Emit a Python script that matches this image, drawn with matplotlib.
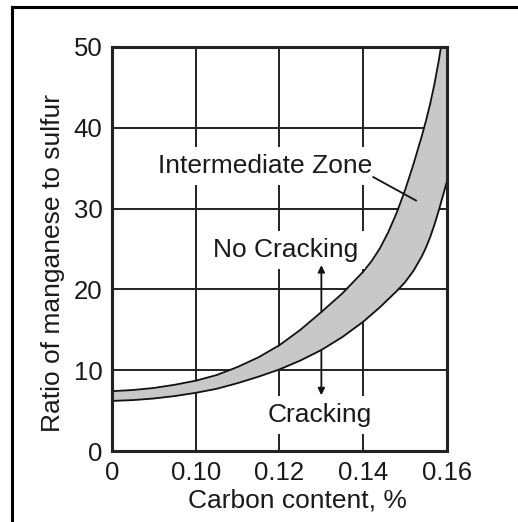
import matplotlib
matplotlib.use("Agg")
import matplotlib.pyplot as plt
from matplotlib.lines import Line2D

plt.rcParams['font.family'] = ['Liberation Sans', 'DejaVu Sans']

# x axis is not linear: 0, 0.10, 0.12, 0.14, 0.16 are spaced evenly,
# so curves are given in tick-position units (0..4)
tick_labels = ['0', '0.10', '0.12', '0.14', '0.16']
ticks_y = [0, 10, 20, 30, 40, 50]

pos = [0, 0.25, 0.5, 0.75, 1.0, 1.25, 1.5, 1.75, 2.0, 2.25, 2.5, 2.75,
       3.0, 3.1, 3.2, 3.3, 3.4, 3.5, 3.6, 3.7, 3.75, 3.8, 3.85, 3.9, 3.93,
       3.96, 4.0]
upper = [7.4, 7.55, 7.8, 8.2, 8.7, 9.4, 10.4, 11.6, 13.1, 15.0, 17.2, 19.5,
         22.2, 23.5, 25.1, 27.1, 29.5, 32.3, 35.5, 39.0, 40.9, 43.0, 45.4,
         48.2, 50.1, 52.2, 55.3]
lower = [6.2, 6.3, 6.5, 6.8, 7.2, 7.7, 8.4, 9.2, 10.1, 11.2, 12.5, 14.1,
         16.0, 16.9, 17.8, 18.8, 19.8, 20.9, 22.3, 24.1, 25.2, 26.5, 28.0,
         29.7, 30.8, 31.9, 33.4]

fig = plt.figure(figsize=(5.18, 5.22), dpi=100)
ax = fig.add_axes([0.2162, 0.136, 0.6467, 0.774])

ax.fill_between(pos, lower, upper, color='#c8c8c8', lw=0, zorder=1)
ax.plot(pos, upper, color='#111111', lw=1.3, zorder=2)
ax.plot(pos, lower, color='#111111', lw=1.3, zorder=2)

ax.set_xlim(0, 4)
ax.set_ylim(0, 50)
ax.set_xticks(range(len(tick_labels)))
ax.set_xticklabels(tick_labels)
ax.set_yticks(ticks_y)
ax.tick_params(length=0, labelsize=18.5, colors='#1a1a1a')
ax.tick_params(axis='x', pad=7)
ax.tick_params(axis='y', pad=7)
ax.grid(True, color='#222222', lw=1.4)
ax.set_axisbelow(True)
for s in ax.spines.values():
    s.set_linewidth(2.2)
    s.set_color('#222222')

ax.set_xlabel('Carbon content, %', fontsize=19, color='#1a1a1a', va='baseline')
ax.xaxis.set_label_coords(0.555, -0.139)
ax.set_ylabel('Ratio of manganese to sulfur', fontsize=19, color='#1a1a1a', va='baseline')
ax.yaxis.set_label_coords(-0.155, 0.465)

box = dict(facecolor='white', edgecolor='none', pad=5)
ax.text(1.83, 34.4, 'Intermediate Zone', fontsize=19, ha='center', va='baseline',
        color='#1a1a1a', bbox=box, zorder=3)
ax.text(2.07, 24.0, 'No Cracking', fontsize=19, ha='center', va='baseline',
        color='#1a1a1a', bbox=box, zorder=3)
ax.text(2.48, 3.6, 'Cracking', fontsize=19, ha='center', va='baseline',
        color='#1a1a1a', bbox=box, zorder=3)

# leader line and arrows
ax.plot([3.12, 3.63], [33.9, 31.0], color='#111111', lw=1.3, zorder=4)
arr = dict(arrowstyle='-|>', color='#111111', lw=1.3, mutation_scale=10,
           shrinkA=0, shrinkB=0)
ax.annotate('', xy=(2.5, 23.0), xytext=(2.5, 17.2), arrowprops=arr, zorder=4)
ax.annotate('', xy=(2.5, 6.9), xytext=(2.5, 12.5), arrowprops=arr, zorder=4)

# frame of the cropped figure (top and left edges)
fig.add_artist(Line2D([0.0232, 1.0], [0.9866, 0.9866], color='black', lw=2.2))
fig.add_artist(Line2D([0.0232, 0.0232], [0.0, 0.9866], color='black', lw=2.2))

fig.savefig('out.png', dpi=100)
